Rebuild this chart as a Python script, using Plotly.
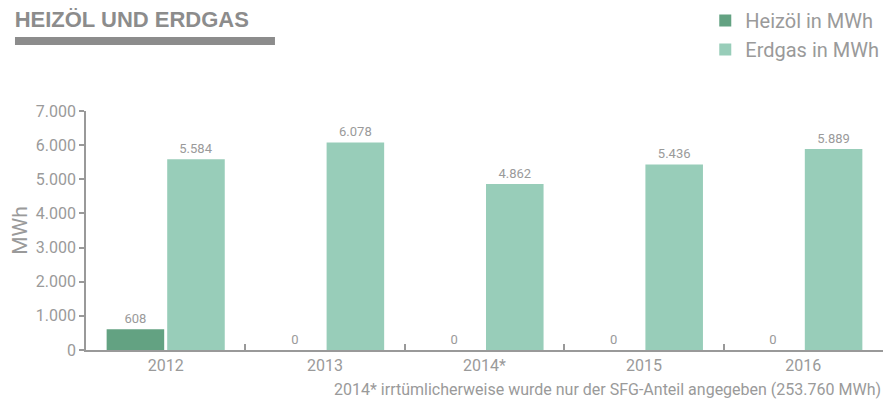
import plotly.graph_objects as go

# Werte aus dem Bericht (MWh)
jahre = ["2012", "2013", "2014*", "2015", "2016"]
heizoel = [608, 0, 0, 0, 0]
erdgas = [5584, 6078, 4862, 5436, 5889]

grau = "#9a9a9a"
schrift = "Roboto"

fig = go.Figure()
fig.add_bar(
    x=jahre, y=heizoel, name="Heizöl in MWh",
    marker=dict(color="#63a282", line=dict(width=0)),
    texttemplate="%{y:,}", textposition="outside",
    textfont=dict(size=13, color=grau), cliponaxis=False,
)
fig.add_bar(
    x=jahre, y=erdgas, name="Erdgas in MWh",
    marker=dict(color="#98cdb9", line=dict(width=0)),
    texttemplate="%{y:,}", textposition="outside",
    textfont=dict(size=13, color=grau), cliponaxis=False,
)

# the page body adds an 8px margin, so the figure is 8px smaller
fig.update_layout(
    width=887, height=395,
    margin=dict(l=78, r=12, t=103, b=53, autoexpand=False),
    paper_bgcolor="white", plot_bgcolor="white",
    separators=",.",
    barmode="group", bargap=0.24, bargroupgap=0.05,
    font=dict(family=schrift, color=grau, size=16),
    showlegend=True,
    legend=dict(
        x=0.777, xanchor="left", y=1.46, yanchor="top",
        font=dict(size=20, color=grau), tracegroupgap=0,
        itemwidth=30, bgcolor="rgba(0,0,0,0)",
    ),
    title=dict(
        text="<b>HEIZÖL UND ERDGAS</b>",
        font=dict(family="Liberation Sans", size=22, color="#8c8c8c"),
        xref="container", x=0.0075, xanchor="left",
        yref="container", y=0.991, yanchor="top",
    ),
    shapes=[dict(
        type="rect", xref="paper", yref="paper",
        x0=-0.0891, x1=0.2371, y0=1.3096, y1=1.2762,
        fillcolor="#8c8c8c", line=dict(width=0),
    )],
    annotations=[dict(
        text="2014* irrtümlicherweise wurde nur der SFG-Anteil angegeben (253.760 MWh)",
        xref="paper", yref="paper", x=1.0, y=-0.167,
        xanchor="right", yanchor="middle", showarrow=False,
        font=dict(size=16, color=grau),
    )],
)

fig.update_xaxes(
    showline=True, linecolor="#999999", linewidth=1.5,
    ticks="inside", tickson="boundaries", ticklen=6,
    tickcolor="#999999", tickwidth=1.5,
    tickfont=dict(size=16, color=grau), showgrid=False,
)
fig.update_yaxes(
    range=[0, 7000], dtick=1000, tickformat=",d",
    showline=True, linecolor="#999999", linewidth=1.5,
    ticks="outside", ticklen=5, tickcolor="#999999", tickwidth=1.5,
    tickfont=dict(size=16, color=grau), showgrid=False, zeroline=False,
    title=dict(text="MWh", font=dict(size=21, color=grau), standoff=8),
)

fig.write_html("out.html")
